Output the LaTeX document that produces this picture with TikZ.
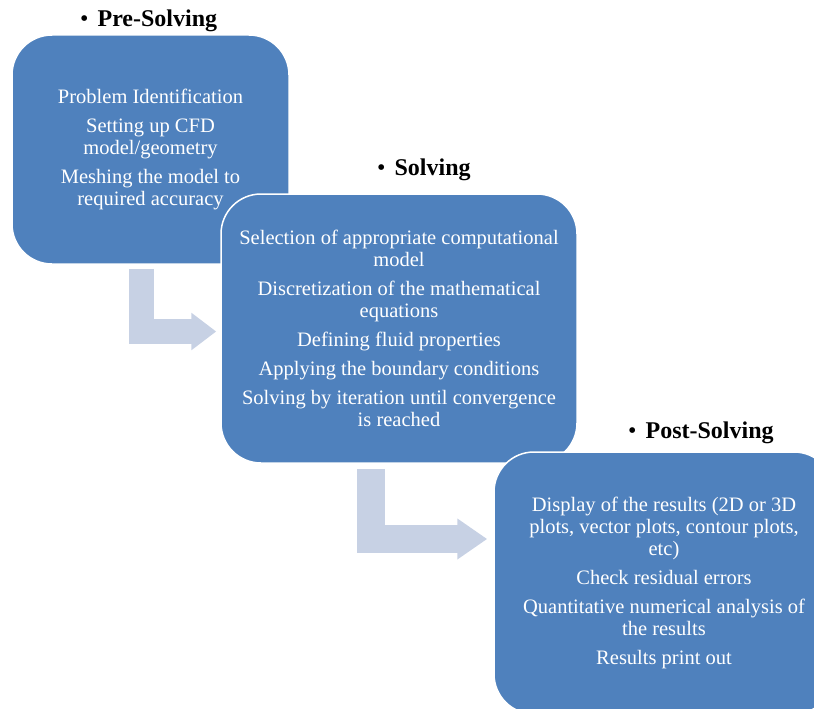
\documentclass[tikz,border=0pt]{standalone}
\usepackage{fontspec}
\setmainfont{Liberation Serif}
\usetikzlibrary{arrows.meta,positioning}
\definecolor{stageblue}{HTML}{4F81BD}
\definecolor{flowgray}{HTML}{C7D1E4}

\begin{document}
\begin{tikzpicture}[x=1pt, y=-1pt,
    stage/.style = {draw=white, line width=1.5pt, fill=stageblue,
                    rounded corners=40pt, text=white, align=center,
                    inner sep=0pt, font=\fontsize{20.5}{22}\selectfont},
    ttl/.style   = {anchor=base west, inner sep=0pt,
                    font=\fontsize{24}{28}\selectfont\bfseries},
    flow/.style  = {draw=flowgray, line width=25pt,
                    -{Triangle[width=36pt,length=25pt]}}
]
    %-- page frame (box 3 runs past the edge) ---------------------------------
    \clip (0,0) rectangle (814,709);

    %-- stage boxes ------------------------------------------------------------
    \node[stage, minimum width=277pt, minimum height=229pt] (pre)
          at (150.5,149.5) {Problem Identification\\[7pt]
                            Setting up CFD\\ model/geometry\\[7pt]
                            Meshing the model to\\ required accuracy};

    \node[stage, minimum width=356pt, minimum height=269pt] (sol)
          at (399,328.5) {Selection of appropriate computational\\ model\\[7pt]
                          Discretization of the mathematical\\ equations\\[7pt]
                          Defining fluid properties\\[7pt]
                          Applying the boundary conditions\\[7pt]
                          Solving by iteration until convergence\\ is reached};

    \node[stage, minimum width=340pt, minimum height=262pt] (post)
          at (664,583) {Display of the results (2D or 3D\\
                        plots, vector plots, contour plots,\\ etc)\\[7pt]
                        Check residual errors\\[7pt]
                        Quantitative numerical analysis of\\ the results\\[7pt]
                        Results print out};

    %-- stage titles -----------------------------------------------------------
    \node[ttl] (tpre)  at (80,27)   {{\mdseries\textbullet}\hspace{9pt}Pre-Solving};
    \node[ttl] (tsol)  at (377,175) {{\mdseries\textbullet}\hspace{9pt}Solving};
    \node[ttl] (tpost) at (628,438) {{\mdseries\textbullet}\hspace{9pt}Post-Solving};

    %-- bent arrows between the stages ----------------------------------------
    \draw[flow] ([xshift=130.5pt,yshift=-4pt]pre.south west)
             |- ([xshift=-4pt,yshift=-3pt]sol.west);
    \draw[flow, line width=28pt, -{Triangle[width=39pt,length=30pt]}]
                ([xshift=151pt,yshift=-5pt]sol.south west)
             |- ([xshift=-6pt,yshift=44pt]post.west);

\end{tikzpicture}
\end{document}
